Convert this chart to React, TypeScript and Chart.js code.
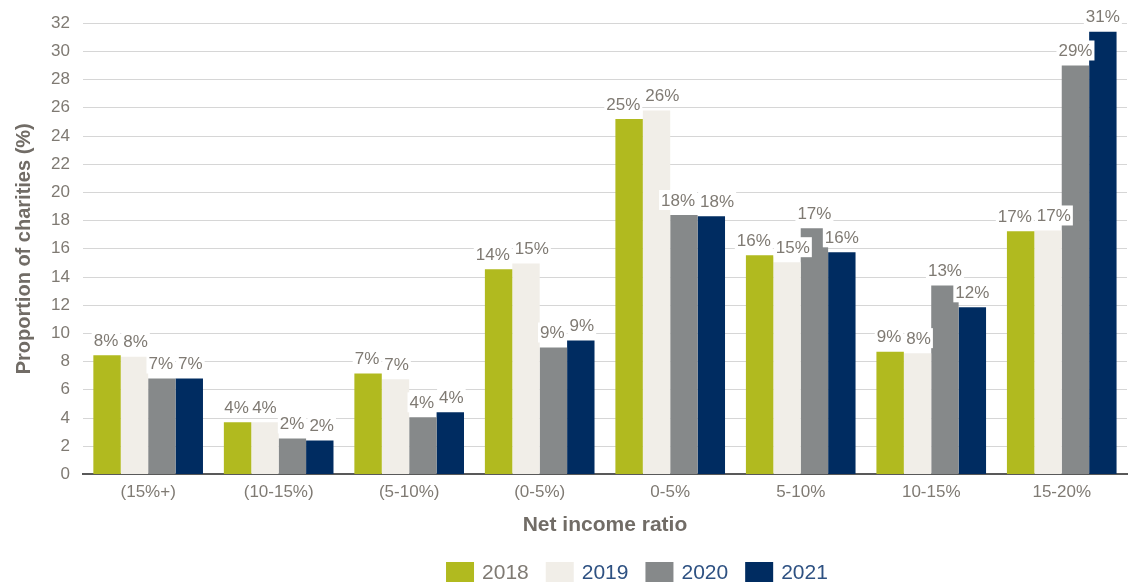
import React, { useEffect, useRef } from "react";
import { Chart, registerables } from "chart.js";

Chart.register(...registerables);

const categories = ["(15%+)", "(10-15%)", "(5-10%)", "(0-5%)", "0-5%", "5-10%", "10-15%", "15-20%"];
const years = ["2018", "2019", "2020", "2021"];
const values2018 = [8.45, 3.7, 7.15, 14.55, 25.2, 15.55, 8.7, 17.25];
const values2019 = [8.35, 3.7, 6.75, 14.95, 25.8, 15.05, 8.6, 17.3];
const values2020 = [6.8, 2.55, 4.05, 9.0, 18.4, 17.45, 13.4, 29.0];
const values2021 = [6.8, 2.4, 4.4, 9.5, 18.3, 15.75, 11.85, 31.4];
const labels2018 = ["8%", "4%", "7%", "14%", "25%", "16%", "9%", "17%"];
const labels2019 = ["8%", "4%", "7%", "15%", "26%", "15%", "8%", "17%"];
const labels2020 = ["7%", "2%", "4%", "9%", "18%", "17%", "13%", "29%"];
const labels2021 = ["7%", "2%", "4%", "9%", "18%", "16%", "12%", "31%"];
const yTicks = [0, 2, 4, 6, 8, 10, 12, 14, 16, 18, 20, 22, 24, 26, 28, 30, 32];

const seriesValues = [values2018, values2019, values2020, values2021];
const seriesLabels = [labels2018, labels2019, labels2020, labels2021];
const colors = ["#b1ba1f", "#f1eee8", "#86898a", "#002c61"];
const legendTextColors = ["#7f7a73", "#2e5182", "#2e5182", "#2e5182"];
const FONT = "'Liberation Sans', Arial, sans-serif";

const labelPlugin = {
  id: "barLabels",
  afterDatasetsDraw(chart: any) {
    const ctx = chart.ctx;
    ctx.save();
    ctx.font = `17px ${FONT}`;
    ctx.textAlign = "center";
    ctx.textBaseline = "middle";
    const all: { x: number; y: number; t: string; w: number }[] = [];
    const n = chart.data.labels.length;
    for (let i = 0; i < n; i++) {
      const group: { x: number; y: number; t: string; w: number }[] = [];
      chart.data.datasets.forEach((ds: any, di: number) => {
        const bar = chart.getDatasetMeta(di).data[i];
        const t = seriesLabels[di][i];
        group.push({ x: bar.x, y: bar.y - 15, t, w: ctx.measureText(t).width });
      });
      for (let j = 1; j < group.length; j++) {
        const a = group[j - 1];
        const b = group[j];
        if (Math.abs(a.y - b.y) < 19) {
          const d = a.x + a.w / 2 + 5 - (b.x - b.w / 2);
          if (d > 0) {
            a.x -= d / 2;
            b.x += d / 2;
          }
        }
      }
      all.push(...group);
    }
    ctx.fillStyle = "#ffffff";
    all.forEach((it) => ctx.fillRect(it.x - it.w / 2 - 2, it.y - 10, it.w + 4, 20));
    ctx.fillStyle = "#7f7a73";
    all.forEach((it) => ctx.fillText(it.t, it.x, it.y + 1));
    ctx.restore();
  },
};

const legendPlugin = {
  id: "customLegend",
  afterDraw(chart: any) {
    const ctx = chart.ctx;
    ctx.save();
    ctx.font = `21px ${FONT}`;
    ctx.textBaseline = "middle";
    ctx.textAlign = "left";
    const box = 28;
    const gap = 8;
    const spacing = 17;
    const widths = years.map((y) => box + gap + ctx.measureText(y).width);
    const total = widths.reduce((s, w) => s + w, 0) + spacing * (years.length - 1);
    const ca = chart.chartArea;
    let x = (ca.left + ca.right) / 2 + 32 - total / 2;
    const cy = chart.height - 13;
    years.forEach((y, i) => {
      ctx.fillStyle = colors[i];
      ctx.fillRect(x, cy - 10, box, 20);
      ctx.fillStyle = legendTextColors[i];
      ctx.fillText(y, x + box + gap, cy + 1);
      x += widths[i] + spacing;
    });
    ctx.restore();
  },
};

export default function App() {
  const ref = useRef<HTMLCanvasElement | null>(null);
  useEffect(() => {
    if (!ref.current) return;
    const chart = new Chart(ref.current, {
      type: "bar",
      data: {
        labels: categories,
        datasets: years.map((y, i) => ({
          label: y,
          data: seriesValues[i],
          backgroundColor: colors[i],
          borderWidth: 0,
          categoryPercentage: 0.84,
          barPercentage: 1.0,
        })),
      },
      options: {
        animation: false,
        responsive: false,
        maintainAspectRatio: false,
        layout: { padding: { top: 16, right: 2, left: 8, bottom: 47 } },
        plugins: {
          tooltip: { enabled: false },
          legend: { display: false },
        },
        scales: {
          x: {
            grid: { display: false, drawTicks: false },
            border: { display: true, color: "#595959", width: 2 },
            ticks: { color: "#7f7a73", font: { family: FONT, size: 17 }, padding: 8 },
            title: {
              display: true,
              text: "Net income ratio",
              color: "#716c66",
              font: { family: FONT, size: 21, weight: "bold" },
              padding: { top: 2, bottom: 0 },
            },
          },
          y: {
            min: 0,
            max: 32,
            afterBuildTicks: (axis: any) => {
              axis.ticks = yTicks.map((v) => ({ value: v }));
            },
            grid: { color: "#d6d6d6", lineWidth: 1, drawTicks: false },
            border: { display: false },
            ticks: { color: "#7f7a73", font: { family: FONT, size: 17 }, padding: 13 },
            title: {
              display: true,
              text: "Proportion of charities (%)",
              color: "#716c66",
              font: { family: FONT, size: 20, weight: "bold" },
              padding: { bottom: 2 },
            },
          },
        },
      },
      plugins: [labelPlugin, legendPlugin],
    });
    return () => chart.destroy();
  }, []);
  return (
    <div style={{ position: "fixed", left: 0, top: 0, width: 1129, height: 585, background: "#fff" }}>
      <canvas ref={ref} width={1129} height={585} style={{ display: "block" }} />
    </div>
  );
}
